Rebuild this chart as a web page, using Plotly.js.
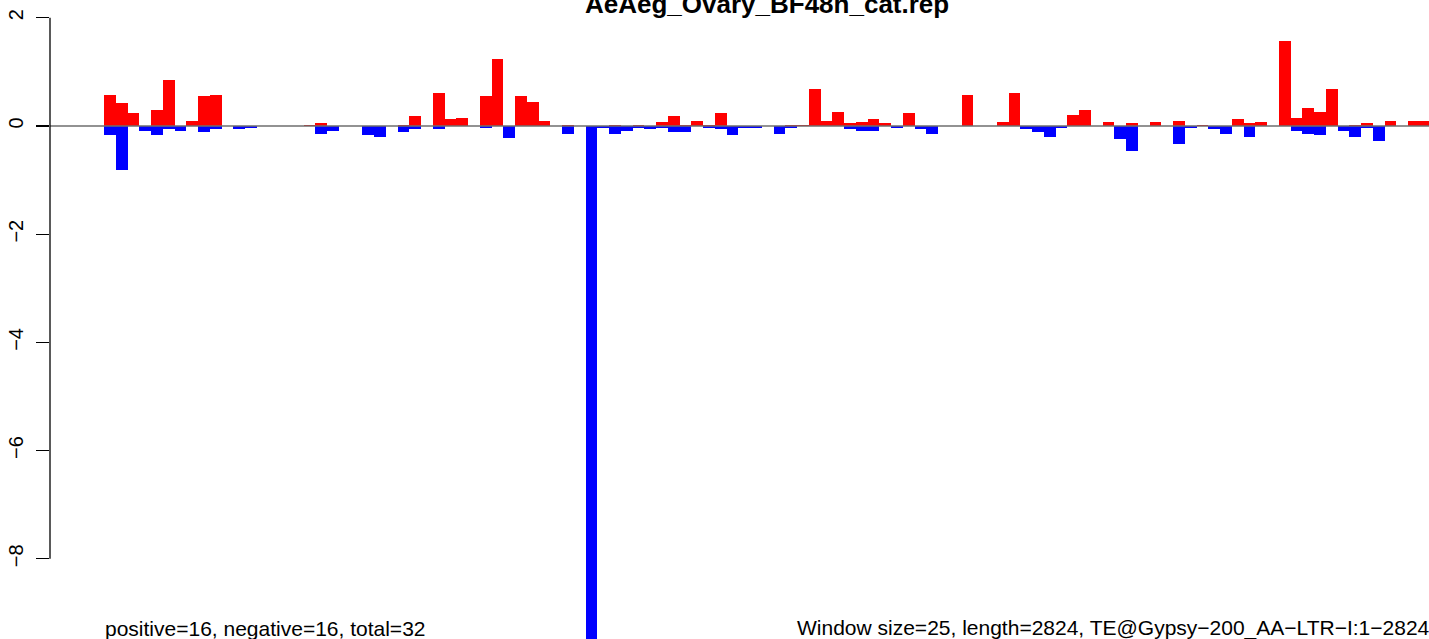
<!DOCTYPE html>
<html>
<head>
<meta charset="utf-8">
<script src="https://cdn.plot.ly/plotly-3.0.1.min.js"></script>
<style>
html, body { margin: 0; padding: 0; background: #fff; overflow: hidden; }
#chart { width: 1429px; height: 639px; }
</style>
</head>
<body>
<div id="chart"></div>
<script>
// Window values (window size 25, length 2824 -> 113 windows)
const positiveValues = [
  0.57, 0.43, 0.24, 0, 0.30, 0.85, 0, 0.09, 0.55, 0.57,
  0, 0, 0, 0, 0, 0, 0, 0.025, 0.055, 0,
  0, 0, 0, 0, 0, 0.02, 0.185, 0, 0.61, 0.13,
  0.15, 0, 0.555, 1.24, 0, 0.555, 0.44, 0.09, 0, 0.02,
  0, 0, 0, 0.02, 0, 0.02, 0, 0.075, 0.185, 0.02,
  0.09, 0.02, 0.24, 0, 0, 0, 0, 0, 0.025, 0.025,
  0.685, 0.09, 0.26, 0.055, 0.075, 0.13, 0.055, 0, 0.24, 0,
  0, 0, 0, 0.57, 0, 0, 0.075, 0.61, 0, 0,
  0, 0, 0.20, 0.30, 0, 0.075, 0, 0.055, 0, 0.075,
  0, 0.09, 0, 0.02, 0, 0, 0.13, 0.055, 0.075, 0,
  1.57, 0.15, 0.33, 0.26, 0.685, 0, 0.02, 0.055, 0, 0.09,
  0, 0.09, 0.09
];
const negativeValues = [
  -0.16, -0.81, 0, -0.09, -0.16, -0.05, -0.09, 0, -0.11, -0.05,
  0, -0.05, -0.03, 0, 0, 0, 0, 0, -0.15, -0.09,
  0, 0, -0.16, -0.20, 0, -0.11, -0.05, 0, -0.05, 0,
  0, 0, -0.03, 0, -0.215, 0, 0, 0, 0, -0.15,
  0, -9.7, -0.03, -0.15, -0.09, -0.03, -0.055, -0.03, -0.11, -0.11,
  0, -0.03, -0.055, -0.165, -0.03, -0.03, 0, -0.15, -0.03, 0,
  0, 0, 0, -0.055, -0.09, -0.09, 0, -0.035, 0, -0.055,
  -0.15, 0, 0, 0, 0, 0, 0, 0, -0.055, -0.11,
  -0.20, -0.035, 0, 0, 0, 0, -0.24, -0.46, 0, 0,
  0, -0.33, -0.035, 0, -0.055, -0.15, 0, -0.20, 0, 0,
  0, -0.09, -0.15, -0.165, 0, -0.09, -0.20, -0.035, -0.28, 0,
  0, 0, 0
];
const yTickValues = [-8, -6, -4, -2, 0, 2];
const yTickLabels = ["\u22128", "\u22126", "\u22124", "\u22122", "0", "2"];
const chartTitle = "AeAeg_Ovary_BF48h_cat.rep";
const leftNote = "positive=16, negative=16, total=32";
const rightNote = "Window size=25, length=2824, TE@Gypsy\u2212200_AA\u2212LTR\u2212I:1\u22122824";

const windowIndex = positiveValues.map((_, i) => i + 1);
const xCenters = windowIndex.map(w => w - 0.5);

const FONT = "Liberation Sans, Arial, Helvetica, sans-serif";

const traces = [
  { type: "bar", x: xCenters, y: positiveValues, width: 1,
    marker: { color: "#ff0000", line: { width: 0 } }, hoverinfo: "x+y", showlegend: false },
  { type: "bar", x: xCenters, y: negativeValues, width: 1,
    marker: { color: "#0000ff", line: { width: 0 } }, hoverinfo: "x+y", showlegend: false }
];

const layout = {
  width: 1429, height: 639,
  margin: { l: 50, r: 0, t: 0, b: 0, pad: 0 },
  paper_bgcolor: "#ffffff", plot_bgcolor: "#ffffff",
  barmode: "overlay", bargap: 0,
  showlegend: false,
  font: { family: FONT, color: "#000000", size: 20 },
  xaxis: {
    range: [-4.596, 112.77], showgrid: false, zeroline: false, showline: false,
    showticklabels: false, ticks: ""
  },
  yaxis: {
    range: [-9.482, 2.329], showgrid: false, zeroline: false, showline: false,
    tickmode: "array", tickvals: yTickValues, ticktext: yTickLabels,
    ticks: "outside", ticklen: 13, tickwidth: 1.3, tickcolor: "#000000",
    ticklabelstandoff: 5,
    tickangle: -90, tickfont: { family: FONT, size: 20, color: "#000000" }
  },
  shapes: [
    { type: "line", xref: "paper", yref: "y", x0: 0, x1: 1, y0: 0, y1: 0,
      line: { color: "#6e6e6e", width: 1.4 }, layer: "above" },
    { type: "line", xref: "paper", yref: "y", x0: 0, x1: 0, y0: yTickValues[0], y1: yTickValues[yTickValues.length - 1],
      line: { color: "#000000", width: 1.3 }, layer: "above" }
  ],
  annotations: [
    { text: "<b>" + chartTitle + "</b>", xref: "paper", yref: "paper",
      x: 0.5203, y: 1, xanchor: "center", yanchor: "top", yshift: 13,
      showarrow: false, font: { family: FONT, size: 26, color: "#000000" } },
    { text: leftNote, xref: "x", yref: "paper", x: 0, y: 0,
      xanchor: "left", yanchor: "bottom", yshift: -3, xshift: -1,
      showarrow: false, font: { family: FONT, size: 21, color: "#000000" } },
    { text: rightNote, xref: "paper", yref: "paper", x: 1, y: 0,
      xanchor: "right", yanchor: "bottom", yshift: -3, xshift: 3,
      showarrow: false, font: { family: FONT, size: 21, color: "#000000" } }
  ]
};

Plotly.newPlot("chart", traces, layout, { displayModeBar: false, staticPlot: true });
</script>
</body>
</html>
